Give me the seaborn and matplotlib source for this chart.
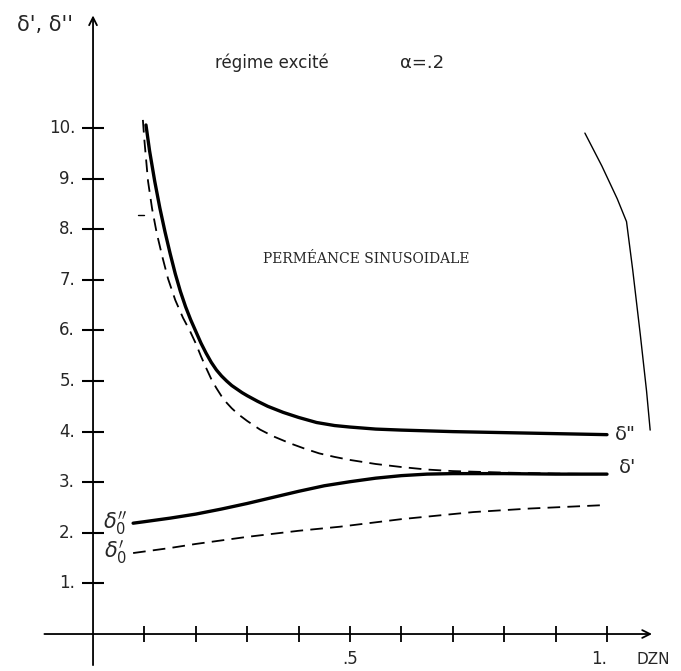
import numpy as np
import pandas as pd
import seaborn as sns
import matplotlib.pyplot as plt

# upper curves: delta'' (solid) and delta' (dashed)
x_d2 = [0.103, 0.11, 0.12, 0.13, 0.14, 0.15, 0.16, 0.17, 0.18, 0.19, 0.2, 0.21, 0.22,
        0.23, 0.24, 0.25, 0.26, 0.27, 0.28, 0.29, 0.3, 0.32, 0.34, 0.37, 0.4, 0.435,
        0.47, 0.5, 0.55, 0.6, 0.7, 0.8, 0.9, 1.0]
y_d2 = [10.06, 9.55, 8.95, 8.42, 7.95, 7.52, 7.12, 6.77, 6.47, 6.21, 5.98, 5.75, 5.55,
        5.37, 5.22, 5.1, 5.0, 4.91, 4.84, 4.77, 4.71, 4.6, 4.5, 4.38, 4.28, 4.18,
        4.12, 4.09, 4.05, 4.03, 4.0, 3.98, 3.96, 3.94]
x_d1 = [0.097, 0.1, 0.107, 0.115, 0.124, 0.135, 0.146, 0.16, 0.175, 0.189, 0.2, 0.21,
        0.22, 0.23, 0.24, 0.25, 0.26, 0.27, 0.283, 0.3, 0.325, 0.35, 0.383, 0.41, 0.44,
        0.47, 0.5, 0.55, 0.6, 0.65, 0.7, 0.8, 0.9, 1.0]
y_d1 = [10.16, 9.75, 8.95, 8.4, 7.92, 7.45, 7.02, 6.6, 6.25, 5.98, 5.74, 5.49,
        5.26, 5.04, 4.86, 4.7, 4.57, 4.46, 4.34, 4.21, 4.04, 3.91, 3.77, 3.67, 3.57,
        3.5, 3.44, 3.36, 3.3, 3.25, 3.22, 3.19, 3.17, 3.16]

# lower curves: delta0'' (solid) and delta0' (dashed)
x_d02 = [0.078, 0.1, 0.15, 0.2, 0.25, 0.3, 0.35, 0.4, 0.45, 0.5, 0.55, 0.6, 0.65,
         0.7, 0.8, 0.9, 1.0]
y_d02 = [2.19, 2.22, 2.29, 2.37, 2.47, 2.58, 2.7, 2.82, 2.93, 3.01, 3.08, 3.13, 3.16,
         3.17, 3.17, 3.16, 3.16]
x_d01 = [0.078, 0.15, 0.2, 0.3, 0.4, 0.48, 0.6, 0.74, 0.85, 1.0]
y_d01 = [1.6, 1.7, 1.78, 1.92, 2.04, 2.12, 2.27, 2.41, 2.48, 2.55]

# stray pen stroke at the right margin
x_stroke = [0.957, 0.99, 1.02, 1.038, 1.05, 1.065, 1.077, 1.084]
y_stroke = [9.9, 9.25, 8.6, 8.15, 7.2, 5.9, 4.8, 4.03]

y_ticks = [1, 2, 3, 4, 5, 6, 7, 8, 9, 10]
y_tick_labels = ["1.", "2.", "3.", "4.", "5.", "6.", "7.", "8.", "9.", "10."]
x_ticks = [0.1, 0.2, 0.3, 0.4, 0.5, 0.6, 0.7, 0.8, 0.9, 1.0]

sns.set_style("white")
plt.rcParams['font.family'] = ['DejaVu Sans']

fig = plt.figure(figsize=(6.81, 6.71), dpi=100)
ax = fig.add_axes([0, 0, 1, 1])
ax.set_xlim(-0.181, 1.144)
ax.set_ylim(-0.731, 12.53)
ax.axis("off")

# axes with arrows
ax.annotate("", xy=(1.093, 0), xytext=(-0.1, 0),
            arrowprops=dict(arrowstyle="->", color="k", lw=1.3, mutation_scale=14))
ax.annotate("", xy=(0, 12.28), xytext=(0, -0.67),
            arrowprops=dict(arrowstyle="->", color="k", lw=1.3, mutation_scale=14))

# cross ticks
ax.plot([0] * len(y_ticks), y_ticks, ls="none", marker="_", ms=16, mew=1.5, color="k")
ax.plot(x_ticks, [0] * len(x_ticks), ls="none", marker="|", ms=12, mew=1.3, color="k")

for v, lab in zip(y_ticks, y_tick_labels):
    ax.text(-0.035, v, lab, ha="right", va="center", fontsize=12)
ax.text(0.5, -0.5, ".5", ha="center", va="center", fontsize=12)
ax.text(0.985, -0.5, "1.", ha="center", va="center", fontsize=12)
ax.text(1.09, -0.5, "DZN", ha="center", va="center", fontsize=11)

dash = (0, (7, 4))
sns.lineplot(x=x_d2, y=y_d2, ax=ax, color="k", lw=2.4, solid_capstyle="round")
sns.lineplot(x=x_d1, y=y_d1, ax=ax, color="k", lw=1.3, linestyle=dash)
sns.lineplot(x=x_d02, y=y_d02, ax=ax, color="k", lw=2.4, solid_capstyle="round")
sns.lineplot(x=x_d01, y=y_d01, ax=ax, color="k", lw=1.3, linestyle=dash)
sns.lineplot(x=x_stroke, y=y_stroke, ax=ax, color="k", lw=1.0, sort=False)
ax.plot([0.088, 0.1], [8.28, 8.28], color="k", lw=1.0)

# labels
ax.text(-0.093, 12.04, "δ', δ''", ha="center", va="center", fontsize=15)
ax.text(0.348, 11.28, "régime excité", ha="center", va="center", fontsize=12)
ax.text(0.64, 11.28, "α=.2", ha="center", va="center", fontsize=13)
ax.text(0.531, 7.41, "PERMÉANCE SINUSOIDALE", ha="center", va="center",
        fontsize=10, family="DejaVu Serif")
ax.text(1.035, 3.95, "δ\"", ha="center", va="center", fontsize=14)
ax.text(1.04, 3.3, "δ'", ha="center", va="center", fontsize=14)
ax.text(0.043, 2.2, "$\\delta_0''$", ha="center", va="center", fontsize=15)
ax.text(0.043, 1.62, "$\\delta_0'$", ha="center", va="center", fontsize=15)

fig.savefig("out.png", dpi=100, facecolor="white")
